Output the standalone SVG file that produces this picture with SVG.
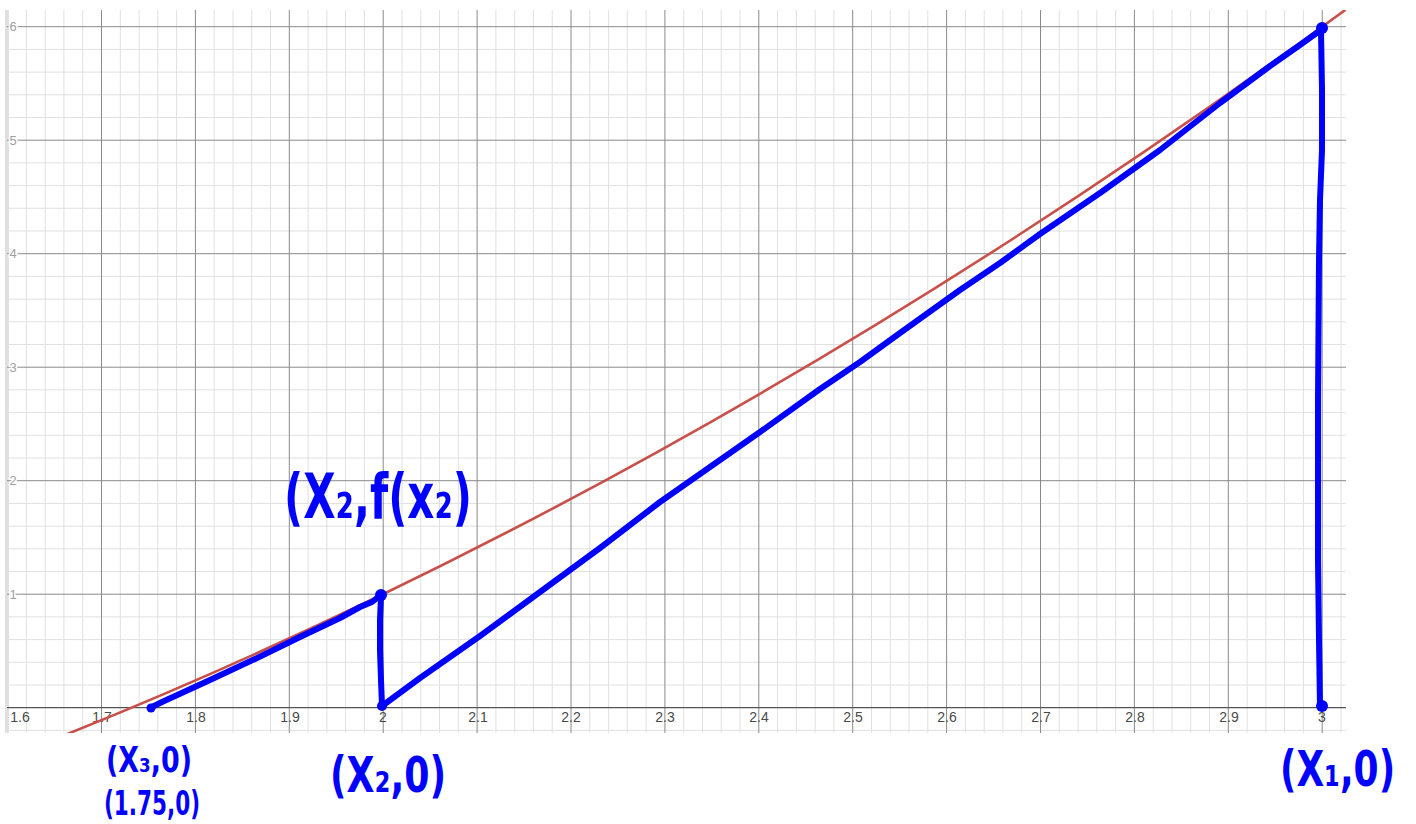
<svg xmlns="http://www.w3.org/2000/svg" width="1416" height="824" viewBox="0 0 1416 824">
<style>
.minor{stroke:#e0e0e0;stroke-width:1}
.major{stroke:#8a8a8a;stroke-width:1}
.axis{stroke:#555;stroke-width:1.2}
.xl{font-family:"Liberation Sans",Arial,sans-serif;font-size:14px;fill:#4a4a4a;text-anchor:middle}
.yl{font-family:"Liberation Sans",Arial,sans-serif;font-size:13px;fill:#a0a0a0;text-anchor:middle;paint-order:stroke;stroke:#fff;stroke-width:3px}
.curve{fill:none;stroke:#c9504a;stroke-width:2.6}
.ink{fill:none;stroke:#0000ff;stroke-width:6;stroke-linecap:round;stroke-linejoin:round}
.dot{fill:#0000ff}
.hand{font-family:"DejaVu Sans","Liberation Sans",sans-serif;font-weight:bold;fill:#0000ff}
</style>
<defs>
<clipPath id="plot"><rect x="7" y="10" width="1339" height="723"/></clipPath>
</defs>
<rect width="1416" height="824" fill="#fff"/>
<g id="grid">
<rect x="5" y="10" width="4" height="723" fill="#e0e0e0"/>
<g class="minor">
<line x1="26.4" y1="10" x2="26.4" y2="733"/><line x1="45.2" y1="10" x2="45.2" y2="733"/><line x1="63.9" y1="10" x2="63.9" y2="733"/><line x1="82.7" y1="10" x2="82.7" y2="733"/>
<line x1="120.3" y1="10" x2="120.3" y2="733"/><line x1="139.1" y1="10" x2="139.1" y2="733"/><line x1="157.8" y1="10" x2="157.8" y2="733"/><line x1="176.6" y1="10" x2="176.6" y2="733"/>
<line x1="214.2" y1="10" x2="214.2" y2="733"/><line x1="233" y1="10" x2="233" y2="733"/><line x1="251.7" y1="10" x2="251.7" y2="733"/><line x1="270.5" y1="10" x2="270.5" y2="733"/>
<line x1="308.1" y1="10" x2="308.1" y2="733"/><line x1="326.9" y1="10" x2="326.9" y2="733"/><line x1="345.6" y1="10" x2="345.6" y2="733"/><line x1="364.4" y1="10" x2="364.4" y2="733"/>
<line x1="402" y1="10" x2="402" y2="733"/><line x1="420.8" y1="10" x2="420.8" y2="733"/><line x1="439.5" y1="10" x2="439.5" y2="733"/><line x1="458.3" y1="10" x2="458.3" y2="733"/>
<line x1="495.9" y1="10" x2="495.9" y2="733"/><line x1="514.7" y1="10" x2="514.7" y2="733"/><line x1="533.4" y1="10" x2="533.4" y2="733"/><line x1="552.2" y1="10" x2="552.2" y2="733"/>
<line x1="589.8" y1="10" x2="589.8" y2="733"/><line x1="608.6" y1="10" x2="608.6" y2="733"/><line x1="627.3" y1="10" x2="627.3" y2="733"/><line x1="646.1" y1="10" x2="646.1" y2="733"/>
<line x1="683.7" y1="10" x2="683.7" y2="733"/><line x1="702.5" y1="10" x2="702.5" y2="733"/><line x1="721.2" y1="10" x2="721.2" y2="733"/><line x1="740" y1="10" x2="740" y2="733"/>
<line x1="777.6" y1="10" x2="777.6" y2="733"/><line x1="796.4" y1="10" x2="796.4" y2="733"/><line x1="815.1" y1="10" x2="815.1" y2="733"/><line x1="833.9" y1="10" x2="833.9" y2="733"/>
<line x1="871.5" y1="10" x2="871.5" y2="733"/><line x1="890.3" y1="10" x2="890.3" y2="733"/><line x1="909" y1="10" x2="909" y2="733"/><line x1="927.8" y1="10" x2="927.8" y2="733"/>
<line x1="965.4" y1="10" x2="965.4" y2="733"/><line x1="984.2" y1="10" x2="984.2" y2="733"/><line x1="1002.9" y1="10" x2="1002.9" y2="733"/><line x1="1021.7" y1="10" x2="1021.7" y2="733"/>
<line x1="1059.3" y1="10" x2="1059.3" y2="733"/><line x1="1078.1" y1="10" x2="1078.1" y2="733"/><line x1="1096.8" y1="10" x2="1096.8" y2="733"/><line x1="1115.6" y1="10" x2="1115.6" y2="733"/>
<line x1="1153.2" y1="10" x2="1153.2" y2="733"/><line x1="1172" y1="10" x2="1172" y2="733"/><line x1="1190.7" y1="10" x2="1190.7" y2="733"/><line x1="1209.5" y1="10" x2="1209.5" y2="733"/>
<line x1="1247.1" y1="10" x2="1247.1" y2="733"/><line x1="1265.9" y1="10" x2="1265.9" y2="733"/><line x1="1284.6" y1="10" x2="1284.6" y2="733"/><line x1="1303.4" y1="10" x2="1303.4" y2="733"/>
<line x1="1341" y1="10" x2="1341" y2="733"/>
<line x1="7" y1="730.4" x2="1346" y2="730.4"/>
<line x1="7" y1="685" x2="1346" y2="685"/><line x1="7" y1="662.3" x2="1346" y2="662.3"/><line x1="7" y1="639.6" x2="1346" y2="639.6"/><line x1="7" y1="616.9" x2="1346" y2="616.9"/>
<line x1="7" y1="571.5" x2="1346" y2="571.5"/><line x1="7" y1="548.8" x2="1346" y2="548.8"/><line x1="7" y1="526.1" x2="1346" y2="526.1"/><line x1="7" y1="503.4" x2="1346" y2="503.4"/>
<line x1="7" y1="458" x2="1346" y2="458"/><line x1="7" y1="435.3" x2="1346" y2="435.3"/><line x1="7" y1="412.6" x2="1346" y2="412.6"/><line x1="7" y1="389.9" x2="1346" y2="389.9"/>
<line x1="7" y1="344.5" x2="1346" y2="344.5"/><line x1="7" y1="321.8" x2="1346" y2="321.8"/><line x1="7" y1="299.1" x2="1346" y2="299.1"/><line x1="7" y1="276.4" x2="1346" y2="276.4"/>
<line x1="7" y1="231" x2="1346" y2="231"/><line x1="7" y1="208.3" x2="1346" y2="208.3"/><line x1="7" y1="185.6" x2="1346" y2="185.6"/><line x1="7" y1="162.9" x2="1346" y2="162.9"/>
<line x1="7" y1="117.5" x2="1346" y2="117.5"/><line x1="7" y1="94.8" x2="1346" y2="94.8"/><line x1="7" y1="72.1" x2="1346" y2="72.1"/><line x1="7" y1="49.4" x2="1346" y2="49.4"/>
</g>
<g class="major">
<line x1="101.5" y1="10" x2="101.5" y2="733"/><line x1="195.4" y1="10" x2="195.4" y2="733"/><line x1="289.3" y1="10" x2="289.3" y2="733"/><line x1="383.2" y1="10" x2="383.2" y2="733"/>
<line x1="477.1" y1="10" x2="477.1" y2="733"/><line x1="571" y1="10" x2="571" y2="733"/><line x1="664.9" y1="10" x2="664.9" y2="733"/><line x1="758.8" y1="10" x2="758.8" y2="733"/>
<line x1="852.7" y1="10" x2="852.7" y2="733"/><line x1="946.6" y1="10" x2="946.6" y2="733"/><line x1="1040.5" y1="10" x2="1040.5" y2="733"/><line x1="1134.4" y1="10" x2="1134.4" y2="733"/>
<line x1="1228.3" y1="10" x2="1228.3" y2="733"/><line x1="1322.2" y1="10" x2="1322.2" y2="733"/>
<line x1="7" y1="594.2" x2="1346" y2="594.2"/><line x1="7" y1="480.7" x2="1346" y2="480.7"/><line x1="7" y1="367.2" x2="1346" y2="367.2"/>
<line x1="7" y1="253.7" x2="1346" y2="253.7"/><line x1="7" y1="140.2" x2="1346" y2="140.2"/><line x1="7" y1="26.7" x2="1346" y2="26.7"/>
</g>
<line class="axis" x1="7" y1="707.7" x2="1346" y2="707.7"/>
</g>
<g id="axis-labels">
<text class="xl" x="20" y="722">1.6</text>
<text class="xl" x="102" y="722">1.7</text>
<text class="xl" x="196" y="722">1.8</text>
<text class="xl" x="290" y="722">1.9</text>
<text class="xl" x="383" y="722">2</text>
<text class="xl" x="478" y="722">2.1</text>
<text class="xl" x="571" y="722">2.2</text>
<text class="xl" x="665" y="722">2.3</text>
<text class="xl" x="759" y="722">2.4</text>
<text class="xl" x="853" y="722">2.5</text>
<text class="xl" x="947" y="722">2.6</text>
<text class="xl" x="1041" y="722">2.7</text>
<text class="xl" x="1135" y="722">2.8</text>
<text class="xl" x="1229" y="722">2.9</text>
<text class="xl" x="1322" y="722">3</text>
<text class="yl" x="13" y="598.8">1</text>
<text class="yl" x="13" y="485.3">2</text>
<text class="yl" x="13" y="371.8">3</text>
<text class="yl" x="13" y="258.3">4</text>
<text class="yl" x="13" y="144.8">5</text>
<text class="yl" x="13" y="31.3">6</text>
</g>
<g id="curve" clip-path="url(#plot)">
<path class="curve" d="M63.9,735.4 Q707.2,477.3 1350.4,6.2"/>
</g>
<g id="connectors">
<path class="ink" d="M150,708 L162,702 L210,680 L255,659 L300,637 L340,618 L360,607 L372,602 L381,595"/>
<path class="ink" d="M381,596 L380,620 L380,650 L381,680 L382,706"/>
<path class="ink" d="M382,706 L420,678 L480,636 L540,592 L600,548 L660,502 L720,460 L760,432 L820,389 L860,362 L900,333 L960,290 L1000,263 L1040,234 L1100,193 L1160,150 L1220,103 L1270,66 L1300,45 L1318,32"/>
<path class="ink" d="M1321,30 L1322,90 L1322,150 L1320,200 L1319,260 L1318,400 L1318,560 L1319,640 L1320,706"/>
</g>
<g id="node-x3">
<circle class="dot" cx="151" cy="708" r="4.5"/>
<text class="hand" x="106" y="772" font-size="36" textLength="86" lengthAdjust="spacingAndGlyphs">(X₃,0)</text>
<text class="hand" x="104" y="815" font-size="34" textLength="96" lengthAdjust="spacingAndGlyphs">(1.75,0)</text>
</g>
<g id="node-fx2">
<circle class="dot" cx="381" cy="595" r="6"/>
<text class="hand" x="284" y="518" font-size="62" textLength="188" lengthAdjust="spacingAndGlyphs">(X₂,f(x₂)</text>
</g>
<g id="node-x2">
<circle class="dot" cx="382" cy="706" r="5"/>
<text class="hand" x="330" y="792" font-size="50" textLength="116" lengthAdjust="spacingAndGlyphs">(X₂,0)</text>
</g>
<g id="node-x1top">
<circle class="dot" cx="1322" cy="28" r="6"/>
</g>
<g id="node-x1">
<circle class="dot" cx="1322" cy="706" r="6"/>
<text class="hand" transform="translate(1280,786) scale(0.72,1)" x="0" y="0" font-size="50">(X₁,0)</text>
</g>
</svg>
